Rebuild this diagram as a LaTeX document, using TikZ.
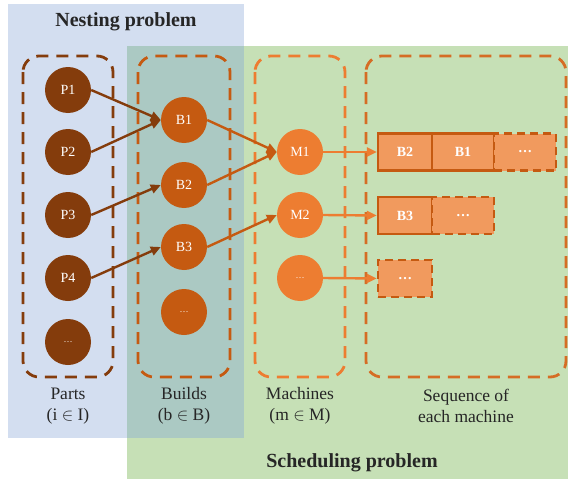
\documentclass[tikz,border=0pt]{standalone}
\usepackage{fontspec}
\setmainfont{Liberation Serif}
\usetikzlibrary{arrows.meta}
\definecolor{bgblue}{HTML}{D3DEF0}
\definecolor{bggreen}{HTML}{C6E0B6}
\definecolor{bgteal}{HTML}{ABC9C3}
\definecolor{partc}{HTML}{843C0C}
\definecolor{buildc}{HTML}{C55A11}
\definecolor{machc}{HTML}{ED7D31}
\definecolor{seqc}{HTML}{D56D25}
\definecolor{slotfill}{HTML}{F19A5E}
\definecolor{txt}{HTML}{262626}
\tikzset{
  x=1pt, y=-1pt,
  group/.style={draw, dashed, line width=2.8pt, dash pattern=on 12pt off 8pt, rounded corners=16pt},
  ball/.style={circle, minimum size=46pt, inner sep=0pt, text=white, font=\fontsize{14}{14}\selectfont},
  slot/.style={draw=buildc, fill=slotfill, line width=2.5pt, minimum width=62pt, minimum height=37pt, inner sep=0pt, text=white, font=\bfseries\fontsize{14}{14}\selectfont},
  first/.style={minimum width=54pt},
  dslot/.style={slot, dashed, dash pattern=on 8pt off 5pt},
  link/.style={line width=2.4pt, -{Triangle[length=10pt,width=9pt]}},
  grouplabel/.style={align=center, text=txt, font=\fontsize{17.5}{21}\selectfont},
  areatitle/.style={text=txt, font=\bfseries\fontsize{20}{20}\selectfont}
}
\begin{document}
\begin{tikzpicture}
\useasboundingbox (0,0) rectangle (571,479);
\fill[white] (0,0) rectangle (571,479);
% problem areas
\fill[bgblue] (8,4) rectangle (244,438);
\fill[bggreen] (127,46) rectangle (568,479);
\fill[bgteal] (127,46) rectangle (244,438);
\node[areatitle] (nest) at (126,22) {Nesting problem};
\node[areatitle] (sched) at (352,463) {Scheduling problem};
% dashed groups
\draw[group, partc] (23,56) rectangle (113,377);
\draw[group, buildc] (138,56) rectangle (230,377);
\draw[group, machc] (255,56) rectangle (345,377);
\draw[group, seqc] (366,56) rectangle (566,377);
% parts
\node[ball, fill=partc] (P1) at (68,90) {P1};
\node[ball, fill=partc] (P2) at (68,152) {P2};
\node[ball, fill=partc] (P3) at (68,215) {P3};
\node[ball, fill=partc] (P4) at (68,278) {P4};
\node[ball, fill=partc] (P5) at (68,342) {\fontsize{9}{9}\selectfont\dots};
% builds
\node[ball, fill=buildc] (B1) at (184,120) {B1};
\node[ball, fill=buildc] (B2) at (184,185) {B2};
\node[ball, fill=buildc] (B3) at (184,247) {B3};
\node[ball, fill=buildc] (B4) at (184,312) {\fontsize{9}{9}\selectfont\dots};
% machines
\node[ball, fill=machc] (M1) at (300,152) {M1};
\node[ball, fill=machc] (M2) at (300,215) {M2};
\node[ball, fill=machc] (M3) at (300,278) {\fontsize{9}{9}\selectfont\dots};
% machine sequences
\node[slot, first] (S11) at (405,152) {B2};
\node[slot] (S12) at (463,152) {B1};
\node[dslot] (S13) at (525,152) {\dots};
\node[slot, first] (S21) at (405,215.5) {B3};
\node[dslot] (S22) at (463,215.5) {\dots};
\node[dslot, first] (S31) at (405,278.5) {\dots};
% assignments
\draw[link, partc] (P1.east) -- (B1.west);
\draw[link, partc] (P2.east) -- (B1.west);
\draw[link, partc] (P3.east) -- (B2.west);
\draw[link, partc] (P4.east) -- (B3.west);
\draw[link, buildc] (B1.east) -- (M1.west);
\draw[link, buildc] (B2.east) -- (M1.west);
\draw[link, buildc] (B3.east) -- (M2.west);
\draw[link, machc] (M1.east) -- (S11.west);
\draw[link, machc] (M2.east) -- (S21.west);
\draw[link, machc] (M3.east) -- (S31.west);
% captions
\node[grouplabel] (cP) at (68,406) {Parts\\(i \(\in\) I)};
\node[grouplabel] (cB) at (184,406) {Builds\\(b \(\in\) B)};
\node[grouplabel] (cM) at (300,406) {Machines\\(m \(\in\) M)};
\node[grouplabel] (cS) at (466,406) {Sequence of\\each machine};
\end{tikzpicture}
\end{document}
